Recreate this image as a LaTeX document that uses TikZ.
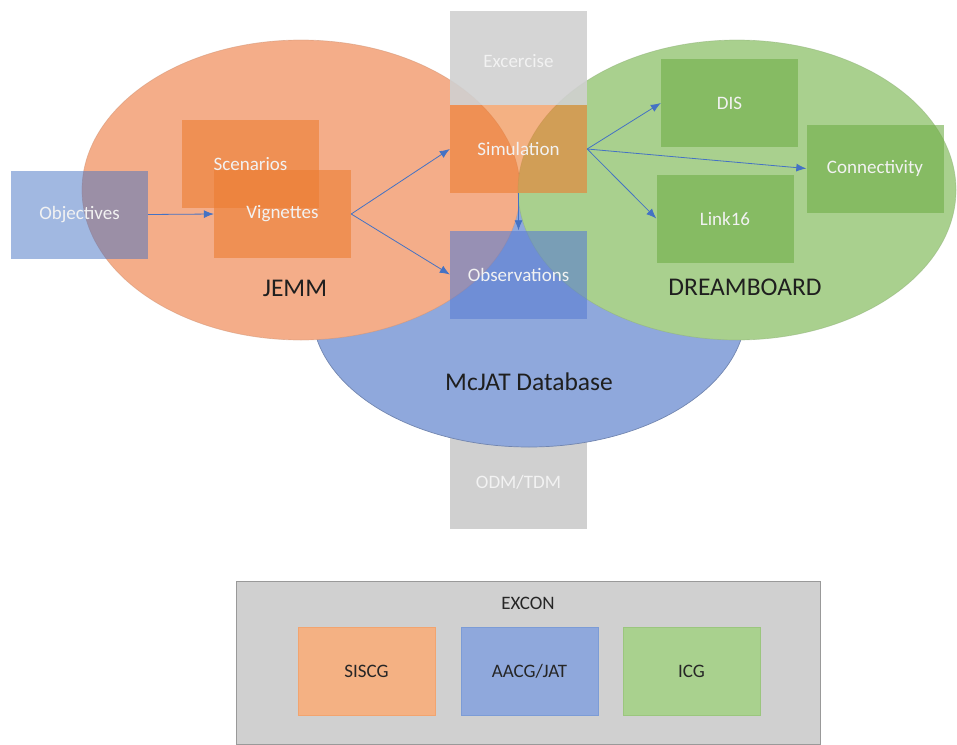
\documentclass[tikz,border=0pt]{standalone}
\usepackage{fontspec}
\setmainfont{Carlito}
\usetikzlibrary{shapes.geometric,arrows.meta}

\definecolor{barGray}{RGB}{208,208,208}
\definecolor{jemmOrange}{RGB}{244,173,137}
\definecolor{dreamGreen}{RGB}{169,208,142}
\definecolor{mcjatBlue}{RGB}{143,168,220}
\definecolor{boxOrange}{RGB}{237,125,49}
\definecolor{boxBlue}{RGB}{68,114,196}
\definecolor{obsBlue}{RGB}{90,125,210}
\definecolor{boxGreen}{RGB}{112,173,71}
\definecolor{arrowBlue}{RGB}{68,114,196}
\definecolor{paleText}{RGB}{242,242,242}

\begin{document}
\begin{tikzpicture}[x=1pt, y=-1pt,
                    font=\fontsize{19}{22}\selectfont,
                    ellipse_style/.style={ellipse, inner sep=0pt, line width=0.7pt},
                    box_style/.style={minimum width=137pt, minimum height=88pt, inner sep=0pt,
                                      text=paleText, text opacity=1},
                    big_label/.style={font=\fontsize{25.5}{28}\selectfont, text=black!88},
                    edge_style/.style={-{Latex[length=10pt,width=8pt]}, draw=arrowBlue, line width=0.8pt},
                    team_box/.style={draw, line width=0.6pt, minimum width=137pt, minimum height=88pt,
                                     inner sep=0pt, text=black!85}
   ]
   \useasboundingbox (0,0) rectangle (957,744);

   % ODM/TDM column behind the circles
   \node[fill=barGray, minimum width=137pt, minimum height=329pt, inner sep=0pt] (odmtdm_bar) at (518.5,364.5) {};
   \node[text=paleText] (odmtdm) at (518.5,482) {ODM/TDM};

   % Circles
   \node[ellipse_style, fill=mcjatBlue, draw=mcjatBlue!80!black,
         minimum width=434pt, minimum height=274pt] (mcjat) at (529,310) {};
   \node[ellipse_style, fill=jemmOrange, draw=jemmOrange!85!black, draw opacity=0.5,
         minimum width=438pt, minimum height=300pt] (jemm) at (301,190) {};
   \node[ellipse_style, fill=dreamGreen, draw=dreamGreen!85!black, draw opacity=0.5,
         minimum width=438pt, minimum height=300pt] (dream) at (737,190) {};

   % Excercise column over the circles
   \node[fill=barGray, fill opacity=0.9, minimum width=137pt, minimum height=94pt, inner sep=0pt,
         text=paleText, text opacity=1] (excercise) at (518.5,58) {};
   \node[text=paleText] at (518.5,61) {Excercise};

   % Boxes
   \node[box_style, fill=boxBlue, fill opacity=0.5] (objectives) at (79.5,214.5) {Objectives};
   \node[box_style, fill=boxOrange, fill opacity=0.6] (scenarios) at (250.5,164) {};
   \node[box_style, fill=boxOrange, fill opacity=0.6] (vignettes) at (282.5,214) {Vignettes};
   \node[text=paleText] at (250.5,164) {Scenarios};
   \node[box_style, fill=boxOrange, fill opacity=0.6] (simulation) at (518.5,149) {Simulation};
   \node[box_style, fill=obsBlue, fill opacity=0.6] (observations) at (518.5,274.5) {Observations};
   \node[box_style, fill=boxGreen, fill opacity=0.6] (dis) at (729.5,103) {DIS};
   \node[box_style, fill=boxGreen, fill opacity=0.6] (connectivity) at (875,168.5) {Connectivity};
   \node[box_style, fill=boxGreen, fill opacity=0.6] (link16) at (725,218.5) {Link16};

   % Labels of the circles
   \node[big_label] (jemm_label) at (295,288) {JEMM};
   \node[big_label] (dream_label) at (745,287) {DREAMBOARD};
   \node[big_label] (mcjat_label) at (529,382) {McJAT Database};

   \draw[edge_style] (objectives.east) -- (vignettes.west);
   \draw[edge_style] (vignettes.east) -- (simulation.west);
   \draw[edge_style] (vignettes.east) -- (observations.west);
   \draw[edge_style] (simulation.south) -- (observations.north);
   \draw[edge_style] (simulation.east) -- (dis.west);
   \draw[edge_style] (simulation.east) -- (connectivity.west);
   \draw[edge_style] (simulation.east) -- (link16.west);

   % EXCON
   \node[fill=barGray, draw=black!40, line width=0.6pt, minimum width=584pt, minimum height=163pt,
         inner sep=0pt] (excon) at (528,662.5) {};
   \node[text=black!85] (excon_label) at (528,603) {EXCON};
   \node[team_box, fill={rgb,255:red,244;green,177;blue,131}, draw=boxOrange!70] (siscg) at (366.5,671) {SISCG};
   \node[team_box, fill=mcjatBlue, draw=boxBlue!70] (aacg) at (529.5,671) {AACG/JAT};
   \node[team_box, fill={rgb,255:red,169;green,209;blue,142}, draw=boxGreen!70] (icg) at (691.5,671) {ICG};
\end{tikzpicture}
\end{document}
